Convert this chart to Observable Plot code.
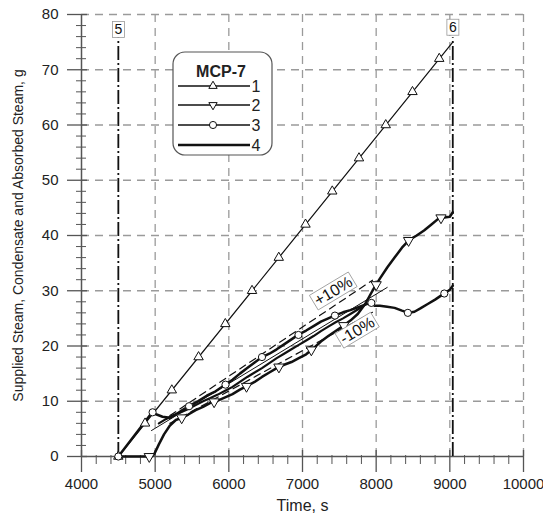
<!DOCTYPE html>
<html><head><meta charset="utf-8">
<script src="https://cdn.jsdelivr.net/npm/d3@7"></script>
<script src="https://cdn.jsdelivr.net/npm/@observablehq/plot@0.6"></script>
<style>body{margin:0;background:#fff} svg{display:block}</style>
</head><body><div id="chart"></div>
<script>
// ---- data ----
const xTicks = [4000, 5000, 6000, 7000, 8000, 9000, 10000];
const yTicks = [0, 10, 20, 30, 40, 50, 60, 70, 80];

// 1: supplied steam (straight)
const s1Time = [4500, 9040];
const s1Val = [0, 75];
const s1MarkTime = [4500, 4863, 5226, 5589, 5952, 6315, 6678, 7041, 7404, 7767, 8130, 8493, 8856];
const s1MarkVal = [0, 6, 12, 18, 24, 30, 36, 42, 48, 54, 60, 66, 72];

// 2: condensate
const s2Time = [4500, 4950, 4990, 5050, 5120, 5200, 5280, 5360, 5450, 5550, 5650, 5750, 5850, 5950, 6050, 6150, 6250, 6350, 6450, 6550, 6650, 6750, 6850, 6950, 7050, 7150, 7250, 7350, 7450, 7550, 7650, 7750, 7850, 7950, 8050, 8150, 8250, 8350, 8450, 8550, 8650, 8750, 8850, 8950, 9000, 9040];
const s2Val = [0, 0, 0.5, 2.2, 4.0, 5.6, 6.6, 7.0, 7.6, 8.4, 9.0, 9.7, 10.1, 10.7, 11.3, 12.1, 12.8, 13.5, 14.4, 15.2, 16.0, 16.6, 17.1, 17.8, 18.5, 19.6, 20.8, 21.8, 22.7, 23.6, 24.6, 25.8, 27.6, 30.0, 32.2, 34.2, 36.0, 37.8, 39.2, 40.0, 40.9, 42.0, 43.1, 43.3, 43.4, 44.2];
const s2MarkTime = [4920, 5360, 5800, 6240, 6680, 7120, 7560, 8000, 8440, 8880];
const s2MarkVal = [0, 7.0, 9.9, 12.7, 16.2, 19.3, 23.7, 31.1, 39.1, 43.2];

// 3: absorbed steam
const s3Time = [4500, 4960, 5020, 5100, 5200, 5280, 5370, 5470, 5580, 5700, 5820, 5950, 6050, 6150, 6250, 6350, 6450, 6550, 6650, 6750, 6850, 6950, 7050, 7150, 7250, 7350, 7450, 7550, 7650, 7750, 7850, 7930, 7980, 8050, 8150, 8250, 8350, 8440, 8520, 8600, 8700, 8800, 8900, 8960, 9000, 9040];
const s3Val = [0, 8.0, 7.6, 7.2, 7.0, 7.6, 8.4, 9.2, 10.0, 11.0, 11.8, 13.0, 13.9, 15.0, 16.0, 17.0, 18.0, 18.6, 19.4, 20.3, 21.2, 22.1, 22.8, 23.6, 24.4, 25.0, 25.6, 26.1, 26.5, 27.0, 27.5, 27.8, 27.3, 27.3, 27.1, 26.9, 26.4, 26.0, 26.2, 26.8, 27.6, 28.4, 29.3, 29.8, 30.2, 30.9];
const s3MarkTime = [4500, 4965, 5460, 5955, 6450, 6945, 7440, 7935, 8430, 8925];
const s3MarkVal = [0, 8.0, 9.1, 13.0, 18.0, 22.0, 25.5, 27.8, 26.0, 29.5];

// 4
const s4Time = [5050, 5150, 5250, 5350, 5450, 5550, 5650, 5750, 5850, 5950, 6050, 6150, 6250, 6350, 6450, 6550, 6650, 6750, 6850, 6950, 7050, 7150, 7250, 7350, 7450, 7550, 7650, 7750, 7850];
const s4Val = [6.0, 6.8, 7.5, 8.0, 8.6, 9.3, 10.0, 10.6, 11.2, 11.9, 12.6, 13.5, 14.4, 15.2, 16.0, 16.9, 17.8, 18.6, 19.4, 20.2, 21.0, 21.8, 22.7, 23.5, 24.3, 25.0, 25.8, 26.6, 27.5];

// fit line and +/-10% bounds
const fitTime = [4950, 8150];
const fitVal = [4.7, 30.6];
const plusTime = [5200, 7950];
const plusVal = [7.4, 31.9];
const minusTime = [5200, 7950];
const minusVal = [6.0, 26.1];
const bandLabels = ["+10%", "-10%"];
const bandLabelTime = [7420, 7745];
const bandLabelVal = [29.9, 22.8];

// vertical event lines
const eventNames = ["5", "6"];
const eventTime = [4500, 9040];
const eventTop = [75.8, 75.8];
const eventLabelVal = [77.2, 77.6];

const legendTitle = "MCP-7";
const legendNames = ["1", "2", "3", "4"];

const zip = (xs, ys) => xs.map((x, i) => ({x, y: ys[i]}));
const minorX = d3.range(4000, 10001, 200).filter(v => v % 1000 !== 0);
const minorY = d3.range(0, 80.1, 2).filter(v => v % 10 !== 0);

const gridStyle = {stroke: "#9a9a9a", strokeWidth: 1.3, strokeDasharray: "8,6", strokeOpacity: 1};

const chart = Plot.plot({
  width: 543, height: 513,
  marginLeft: 81, marginRight: 20, marginTop: 14, marginBottom: 57,
  style: {fontFamily: "'Liberation Sans', Arial, sans-serif", fontSize: "14px", color: "#222", background: "#fff"},
  x: {domain: [4000, 10000]},
  y: {domain: [0, 80]},
  marks: [
    Plot.ruleX(xTicks.slice(1), {...gridStyle}),
    Plot.ruleY(yTicks.slice(1), {...gridStyle}),
    Plot.axisX({ticks: xTicks, tickSize: 0, tickPadding: 22, tickFormat: d => String(d), label: null, fontSize: 15}),
    Plot.axisY({ticks: yTicks, tickSize: 0, tickPadding: 23, tickFormat: d => String(d), label: null, fontSize: 15}),
    Plot.ruleY([0], {x1: 4000, x2: 10000, stroke: "#555", strokeWidth: 1.5}),
    Plot.ruleX([4000], {y1: 0, y2: 80, stroke: "#555", strokeWidth: 1.5}),
    Plot.ruleX(xTicks, {x: d => d, y1: 0, y2: 0, insetTop: -6, insetBottom: -16, stroke: "#555", strokeWidth: 1.3}),
    Plot.ruleX(minorX, {x: d => d, y1: 0, y2: 0, insetTop: -1, insetBottom: -8, stroke: "#555", strokeWidth: 1}),
    Plot.ruleY(yTicks, {y: d => d, x1: 4000, x2: 4000, insetLeft: -14, insetRight: -6, stroke: "#555", strokeWidth: 1.3}),
    Plot.ruleY(minorY, {y: d => d, x1: 4000, x2: 4000, insetLeft: -5, insetRight: -5, stroke: "#555", strokeWidth: 1}),
    Plot.text(["Time, s"], {frameAnchor: "bottom", lineAnchor: "middle", dy: 49, text: d => d, fontSize: 16, fill: "#222"}),
    Plot.text(["Supplied Steam, Condensate and Absorbed Steam, g"], {frameAnchor: "left", lineAnchor: "middle", dx: -63, rotate: -90, textAnchor: "middle", text: d => d, fontSize: 14, fill: "#222"}),
    // event lines
    Plot.ruleX(eventTime.map((t, i) => ({t, top: eventTop[i]})), {x: "t", y1: 0, y2: "top", stroke: "#111", strokeWidth: 1.8, strokeDasharray: "14,3,2,3"}),
    Plot.text(eventNames.map((n, i) => ({n, t: eventTime[i], v: eventLabelVal[i]})), {x: "t", y: "v", text: "n", fontSize: 14, fill: "#111", className: "boxed"}),
    // fit and bounds
    Plot.line(zip(plusTime, plusVal), {x: "x", y: "y", stroke: "#111", strokeWidth: 1.2, strokeDasharray: "7,5"}),
    Plot.line(zip(minusTime, minusVal), {x: "x", y: "y", stroke: "#111", strokeWidth: 1.2, strokeDasharray: "7,5"}),
    Plot.line(zip(fitTime, fitVal), {x: "x", y: "y", stroke: "#111", strokeWidth: 1}),
    // series
    Plot.line(zip(s1Time, s1Val), {x: "x", y: "y", stroke: "#111", strokeWidth: 1.2}),
    Plot.line(zip(s4Time, s4Val), {x: "x", y: "y", stroke: "#111", strokeWidth: 2.2}),
    Plot.line(zip(s2Time, s2Val), {x: "x", y: "y", stroke: "#111", strokeWidth: 2.5}),
    Plot.line(zip(s3Time, s3Val), {x: "x", y: "y", stroke: "#111", strokeWidth: 2.5}),
    Plot.dot(zip(s1MarkTime, s1MarkVal), {x: "x", y: "y", symbol: "triangle", r: 3.5, fill: "white", stroke: "#111", strokeWidth: 1}),
    Plot.dot(zip(s2MarkTime, s2MarkVal), {x: "x", y: "y", symbol: "triangle", rotate: 180, r: 3.8, fill: "white", stroke: "#111", strokeWidth: 1}),
    Plot.dot(zip(s3MarkTime, s3MarkVal), {x: "x", y: "y", symbol: "circle", r: 3.6, fill: "white", stroke: "#111", strokeWidth: 1}),
    Plot.text(bandLabels.map((n, i) => ({n, t: bandLabelTime[i], v: bandLabelVal[i]})), {x: "t", y: "v", text: "n", rotate: -31, fontSize: 16, fill: "#111", className: "boxed"})
  ]
});
document.getElementById("chart").appendChild(chart);

// boxes behind labels
d3.select(chart).selectAll("g.boxed text").each(function() {
  const b = this.getBBox();
  const r = document.createElementNS("http://www.w3.org/2000/svg", "rect");
  r.setAttribute("x", b.x - 2); r.setAttribute("y", b.y);
  r.setAttribute("width", b.width + 4); r.setAttribute("height", b.height);
  r.setAttribute("fill", "white"); r.setAttribute("stroke", "#999"); r.setAttribute("stroke-width", "0.8");
  const tr = this.getAttribute("transform"); if (tr) r.setAttribute("transform", tr);
  this.parentNode.insertBefore(r, this);
});

// legend
const svg = d3.select(chart);
const lg = svg.append("g").attr("font-family", "'Liberation Sans', Arial, sans-serif");
lg.append("rect").attr("x", 173).attr("y", 52).attr("width", 99).attr("height", 103).attr("rx", 12)
  .attr("fill", "white").attr("stroke", "#555").attr("stroke-width", 1.2);
lg.append("text").attr("x", 221).attr("y", 77).attr("text-anchor", "middle").attr("font-weight", "bold").attr("font-size", 16).attr("fill", "#222").text(legendTitle);
const rowY = [86, 105, 125, 145];
const syms = [d3.symbolTriangle, d3.symbolTriangle, d3.symbolCircle, null];
legendNames.forEach((n, i) => {
  lg.append("line").attr("x1", 178).attr("x2", 250).attr("y1", rowY[i]).attr("y2", rowY[i])
    .attr("stroke", "#111").attr("stroke-width", i === 3 ? 2.4 : 1.3);
  if (syms[i]) {
    const size = i === 2 ? 40 : 30;
    lg.append("path").attr("d", d3.symbol(syms[i], size)())
      .attr("transform", `translate(213,${rowY[i]})` + (i === 1 ? " rotate(180)" : ""))
      .attr("fill", "white").attr("stroke", "#111").attr("stroke-width", 1);
  }
  lg.append("text").attr("x", 256).attr("y", rowY[i] + 6).attr("font-size", 16).attr("fill", "#222").text(n);
});
</script></body></html>
